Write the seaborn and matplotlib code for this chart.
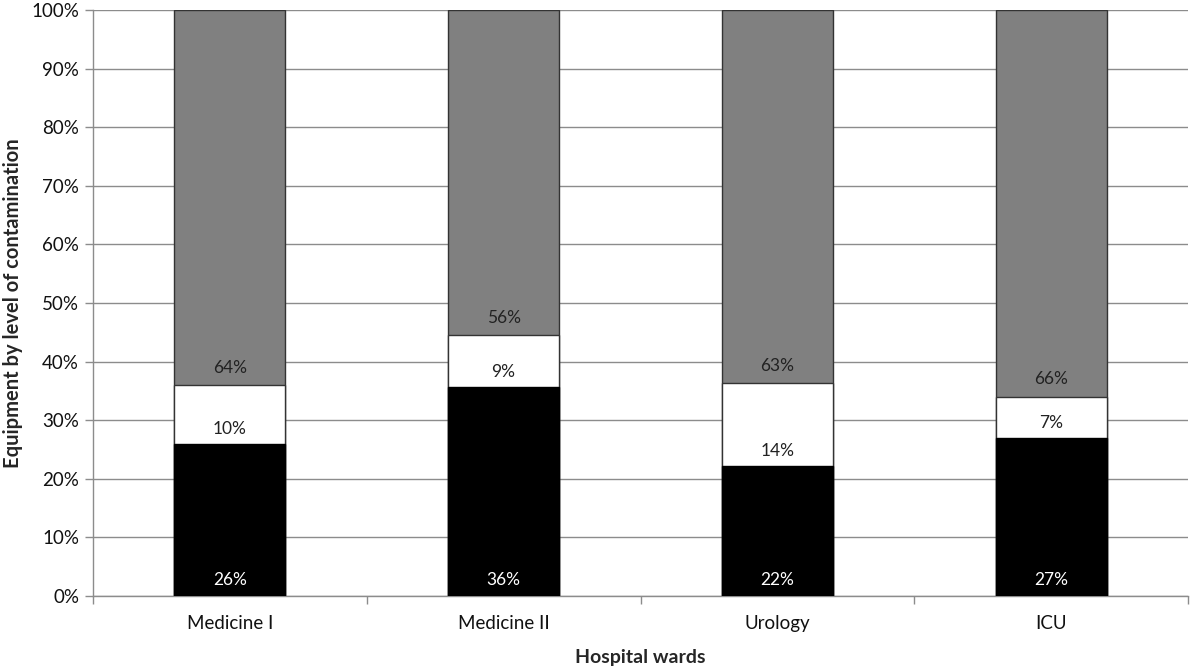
import numpy as np
import pandas as pd
import seaborn as sns
import matplotlib.pyplot as plt
from matplotlib.ticker import PercentFormatter, FixedLocator

wards = ['Medicine I', 'Medicine II', 'Urology', 'ICU']
high = [26, 36, 22, 27]     # black segment
medium = [10, 9, 14, 7]     # white segment
low = [64, 56, 63, 66]      # gray segment

sns.set_theme(style='white')
plt.rcParams['font.family'] = ['Lato', 'DejaVu Sans']

df = pd.DataFrame({'ward': wards, 'high': high, 'medium': medium, 'low': low})
tot = df['high'] + df['medium'] + df['low']
df['c1'] = df['high'] / tot * 100
df['c2'] = (df['high'] + df['medium']) / tot * 100
df['c3'] = 100.0

fig = plt.figure(figsize=(12, 6.67), dpi=100)
ax = fig.add_axes([0.0775, 0.1064, 0.9125, 0.8786])

# cumulative bars, drawn top segment first
sns.barplot(data=df, x='ward', y='c3', color='#808080', width=0.405,
            edgecolor='#333333', linewidth=1.0, saturation=1, ax=ax, zorder=2)
sns.barplot(data=df, x='ward', y='c2', color='white', width=0.405,
            edgecolor='#333333', linewidth=1.0, saturation=1, ax=ax, zorder=3)
sns.barplot(data=df, x='ward', y='c1', color='black', width=0.405,
            edgecolor='black', linewidth=1.0, saturation=1, ax=ax, zorder=4)

# segment labels near the base of each segment
for i in range(len(wards)):
    ax.text(i, 1.4, f'{high[i]}%', ha='center', va='bottom', color='white',
            fontsize=12.5, zorder=5)
    ax.text(i, df['c1'][i] + 1.2, f'{medium[i]}%', ha='center', va='bottom',
            color='#222222', fontsize=12.5, zorder=5)
    ax.text(i, df['c2'][i] + 1.6, f'{low[i]}%', ha='center', va='bottom',
            color='#222222', fontsize=12.5, zorder=5)

ax.set_ylim(0, 100)
ax.set_xlim(-0.5, 3.5)
ax.set_yticks(np.arange(0, 101, 10))
ax.yaxis.set_major_formatter(PercentFormatter(decimals=0))
ax.yaxis.grid(True, color='#8c8c8c', linewidth=1.0, zorder=0)
ax.set_axisbelow(True)

ax.xaxis.set_minor_locator(FixedLocator([-0.5, 0.5, 1.5, 2.5, 3.5]))
ax.tick_params(axis='x', which='major', length=0, labelsize=13.5, pad=14, colors='#111111')
ax.tick_params(axis='x', which='minor', length=6, width=1, color='#8c8c8c', direction='out', bottom=True)
ax.tick_params(axis='y', length=6, width=1, color='#8c8c8c', direction='out', left=True,
               labelsize=13.5, labelcolor='#111111', pad=4)

for s in ['top', 'right']:
    ax.spines[s].set_visible(False)
for s in ['left', 'bottom']:
    ax.spines[s].set_color('#8c8c8c')
    ax.spines[s].set_linewidth(1.0)

ax.set_xlabel('Hospital wards', fontsize=14, fontweight='bold', labelpad=12)
ax.set_ylabel('Equipment by level of contamination', fontsize=14.5, fontweight='bold', labelpad=6)

fig.savefig('out.png', dpi=100)
